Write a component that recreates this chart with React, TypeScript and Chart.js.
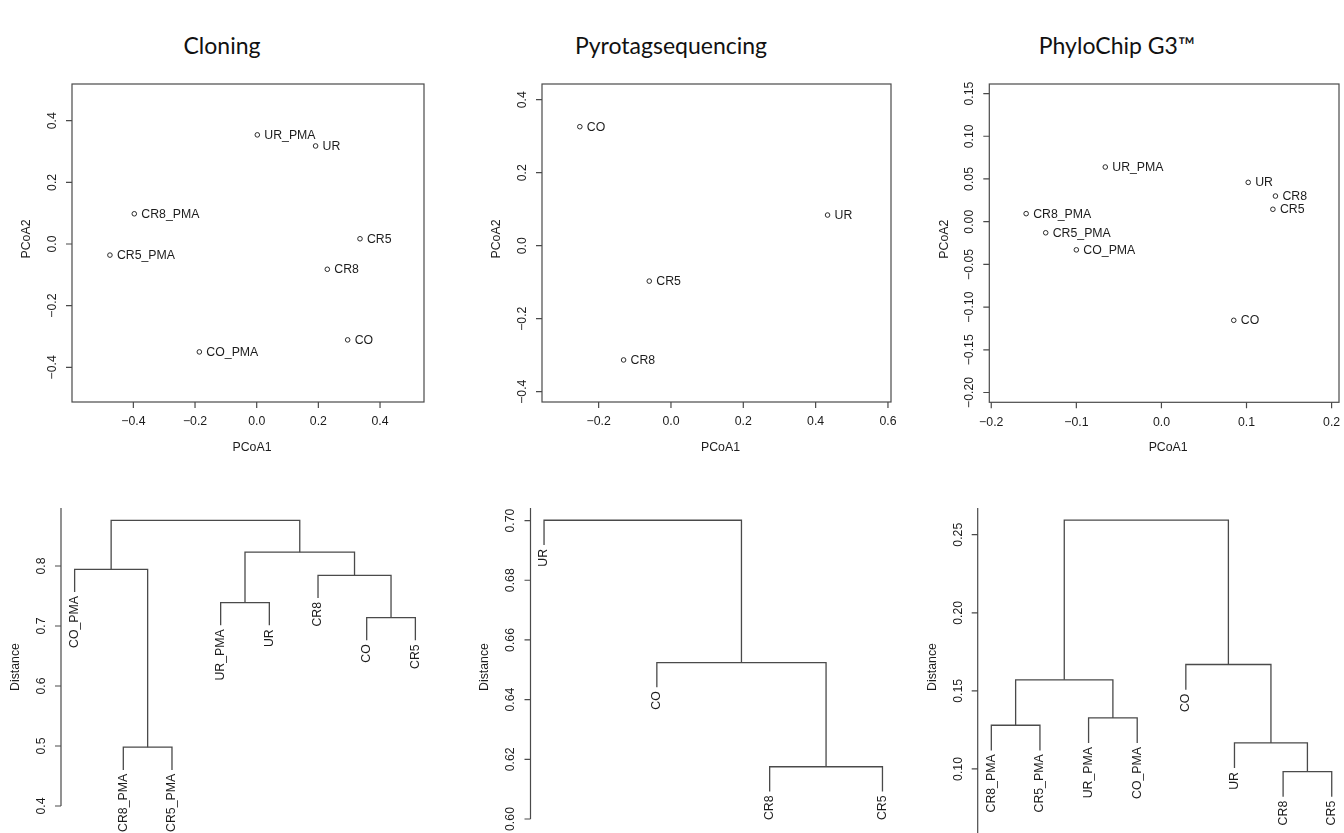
import React, { useEffect, useRef } from "react";
import { Chart, registerables } from "chart.js";
Chart.register(...registerables);

const FONT = '"Liberation Sans", Arial, Helvetica, sans-serif';
const LINE = "#4a4a4a";
const TEXT = "#1c1c1c";
const FS = 12.3;

// ---------- Titles ----------
const TITLES = ["Cloning", "Pyrotagsequencing", "PhyloChip G3™"];
const TITLE_CENTERS = [222, 671, 1117];

// ---------- PCoA: Cloning ----------
const CLONING_LABELS = ["UR_PMA", "UR", "CR8_PMA", "CR5_PMA", "CR5", "CR8", "CO", "CO_PMA"];
const CLONING_PC1 = [0.002, 0.191, -0.397, -0.476, 0.335, 0.229, 0.295, -0.186];
const CLONING_PC2 = [0.354, 0.318, 0.098, -0.036, 0.017, -0.082, -0.311, -0.35];
const CLONING_XTICKS = [-0.4, -0.2, 0, 0.2, 0.4];
const CLONING_XTICK_LABELS = ["−0.4", "−0.2", "0.0", "0.2", "0.4"];
const CLONING_YTICKS = [-0.4, -0.2, 0, 0.2, 0.4];
const CLONING_YTICK_LABELS = ["−0.4", "−0.2", "0.0", "0.2", "0.4"];

// ---------- PCoA: Pyrotagsequencing ----------
const PYRO_LABELS = ["CO", "UR", "CR5", "CR8"];
const PYRO_PC1 = [-0.252, 0.433, -0.06, -0.131];
const PYRO_PC2 = [0.326, 0.084, -0.097, -0.313];
const PYRO_XTICKS = [-0.2, 0, 0.2, 0.4, 0.6];
const PYRO_XTICK_LABELS = ["−0.2", "0.0", "0.2", "0.4", "0.6"];
const PYRO_YTICKS = [-0.4, -0.2, 0, 0.2, 0.4];
const PYRO_YTICK_LABELS = ["−0.4", "−0.2", "0.0", "0.2", "0.4"];

// ---------- PCoA: PhyloChip ----------
const PHYLO_LABELS = ["UR_PMA", "UR", "CR8", "CR5", "CR8_PMA", "CR5_PMA", "CO_PMA", "CO"];
const PHYLO_PC1 = [-0.066, 0.102, 0.134, 0.131, -0.159, -0.136, -0.1, 0.085];
const PHYLO_PC2 = [0.064, 0.046, 0.03, 0.0145, 0.0094, -0.013, -0.033, -0.1155];
const PHYLO_XTICKS = [-0.2, -0.1, 0, 0.1, 0.2];
const PHYLO_XTICK_LABELS = ["−0.2", "−0.1", "0.0", "0.1", "0.2"];
const PHYLO_YTICKS = [-0.2, -0.15, -0.1, -0.05, 0, 0.05, 0.1, 0.15];
const PHYLO_YTICK_LABELS = ["−0.20", "−0.15", "−0.10", "−0.05", "0.00", "0.05", "0.10", "0.15"];

// ---------- Dendrograms (merge: negative = leaf position, positive = earlier merge) ----------
const HANG_FRACTION = 0.1;

const CLONING_LEAVES = ["CO_PMA", "CR8_PMA", "CR5_PMA", "UR_PMA", "UR", "CR8", "CO", "CR5"];
const CLONING_MERGES: [number, number][] = [[-2, -3], [-7, -8], [-4, -5], [-6, 2], [-1, 1], [3, 4], [5, 6]];
const CLONING_HEIGHTS = [0.498, 0.714, 0.739, 0.7845, 0.7945, 0.823, 0.876];
const CLONING_DTICKS = [0.4, 0.5, 0.6, 0.7, 0.8];
const CLONING_DTICK_LABELS = ["0.4", "0.5", "0.6", "0.7", "0.8"];

const PYRO_LEAVES = ["UR", "CO", "CR8", "CR5"];
const PYRO_MERGES: [number, number][] = [[-3, -4], [-2, 1], [-1, 2]];
const PYRO_HEIGHTS = [0.6175, 0.6524, 0.7001];
const PYRO_DTICKS = [0.6, 0.62, 0.64, 0.66, 0.68, 0.7];
const PYRO_DTICK_LABELS = ["0.60", "0.62", "0.64", "0.66", "0.68", "0.70"];

const PHYLO_LEAVES = ["CR8_PMA", "CR5_PMA", "UR_PMA", "CO_PMA", "CO", "UR", "CR8", "CR5"];
const PHYLO_MERGES: [number, number][] = [[-7, -8], [-6, 1], [-1, -2], [-3, -4], [3, 4], [-5, 2], [5, 6]];
const PHYLO_HEIGHTS = [0.0983, 0.1167, 0.128, 0.1327, 0.1571, 0.1669, 0.2594];
const PHYLO_DTICKS = [0.1, 0.15, 0.2, 0.25];
const PHYLO_DTICK_LABELS = ["0.10", "0.15", "0.20", "0.25"];

type Box = { l: number; t: number; r: number; b: number };

interface ScatterCfg {
  kind: "scatter";
  left: number; top: number; width: number; height: number;
  box: Box;
  xMin: number; xMax: number; yMin: number; yMax: number;
  labels: string[]; xs: number[]; ys: number[];
  xTicks: number[]; xTickLabels: string[];
  yTicks: number[]; yTickLabels: string[];
}

interface DendroCfg {
  kind: "dendro";
  left: number; top: number; width: number; height: number;
  box: Box;
  xMin: number; xMax: number; yMin: number; yMax: number;
  leaves: string[]; merges: [number, number][]; heights: number[];
  ticks: number[]; tickLabels: string[];
}

function rotText(ctx: CanvasRenderingContext2D, s: string, x: number, y: number, align: CanvasTextAlign) {
  ctx.save();
  ctx.translate(x, y);
  ctx.rotate(-Math.PI / 2);
  ctx.textAlign = align;
  ctx.textBaseline = "middle";
  ctx.fillText(s, 0, 0);
  ctx.restore();
}

function padding(c: { left: number; top: number; width: number; height: number; box: Box }) {
  return {
    left: c.box.l - c.left,
    top: c.box.t - c.top,
    right: c.left + c.width - c.box.r,
    bottom: c.top + c.height - c.box.b,
  };
}

function makeScatter(canvas: HTMLCanvasElement, c: ScatterCfg) {
  const decor = {
    id: "rdecor",
    afterDraw(chart: any) {
      const ctx: CanvasRenderingContext2D = chart.ctx;
      const a = chart.chartArea;
      const sx = chart.scales.x;
      const sy = chart.scales.y;
      ctx.save();
      ctx.strokeStyle = LINE;
      ctx.lineWidth = 1.2;
      ctx.strokeRect(a.left, a.top, a.right - a.left, a.bottom - a.top);
      ctx.beginPath();
      c.xTicks.forEach((v) => {
        const x = sx.getPixelForValue(v);
        ctx.moveTo(x, a.bottom);
        ctx.lineTo(x, a.bottom + 6);
      });
      c.yTicks.forEach((v) => {
        const y = sy.getPixelForValue(v);
        ctx.moveTo(a.left, y);
        ctx.lineTo(a.left - 6, y);
      });
      ctx.stroke();
      ctx.fillStyle = TEXT;
      ctx.font = `${FS}px ${FONT}`;
      ctx.textAlign = "center";
      ctx.textBaseline = "middle";
      c.xTicks.forEach((v, i) => ctx.fillText(c.xTickLabels[i], sx.getPixelForValue(v), a.bottom + 20));
      c.yTicks.forEach((v, i) => rotText(ctx, c.yTickLabels[i], a.left - 19.5, sy.getPixelForValue(v), "center"));
      ctx.fillText("PCoA1", (a.left + a.right) / 2 + 4, a.bottom + 45.5);
      rotText(ctx, "PCoA2", a.left - 45, (a.top + a.bottom) / 2 - 4, "center");
      ctx.textAlign = "left";
      c.labels.forEach((s, i) => {
        ctx.fillText(s, sx.getPixelForValue(c.xs[i]) + 7, sy.getPixelForValue(c.ys[i]) + 0.5);
      });
      ctx.restore();
    },
  };
  return new Chart(canvas, {
    type: "scatter",
    data: {
      datasets: [
        {
          data: c.xs.map((x, i) => ({ x, y: c.ys[i] })),
          pointRadius: 2.3,
          pointBorderWidth: 1,
          pointBorderColor: "#2a2a2a",
          pointBackgroundColor: "#ffffff",
          showLine: false,
        },
      ],
    },
    options: {
      responsive: false,
      animation: false,
      events: [],
      layout: { padding: padding(c) },
      plugins: { legend: { display: false }, tooltip: { enabled: false } },
      scales: {
        x: { type: "linear", display: false, min: c.xMin, max: c.xMax },
        y: { type: "linear", display: false, min: c.yMin, max: c.yMax },
      },
    },
    plugins: [decor],
  } as any);
}

function makeDendro(canvas: HTMLCanvasElement, c: DendroCfg) {
  const hang = HANG_FRACTION * (Math.max(...c.heights) - Math.min(...c.heights));
  const mx: number[] = [];
  const leafEnds: number[] = new Array(c.leaves.length).fill(0);
  const segments: { x: number; y: number }[][] = [];
  c.merges.forEach(([ca, cb], i) => {
    const h = c.heights[i];
    const pos = (ch: number) => {
      if (ch < 0) {
        const x = -ch;
        leafEnds[x - 1] = h - hang;
        return { x, y: h - hang };
      }
      return { x: mx[ch - 1], y: c.heights[ch - 1] };
    };
    const p1 = pos(ca);
    const p2 = pos(cb);
    mx.push((p1.x + p2.x) / 2);
    segments.push([
      { x: p1.x, y: p1.y },
      { x: p1.x, y: h },
      { x: p2.x, y: h },
      { x: p2.x, y: p2.y },
    ]);
  });

  const decor = {
    id: "rdendro",
    afterDraw(chart: any) {
      const ctx: CanvasRenderingContext2D = chart.ctx;
      const a = chart.chartArea;
      const sx = chart.scales.x;
      const sy = chart.scales.y;
      ctx.save();
      ctx.strokeStyle = LINE;
      ctx.lineWidth = 1.2;
      ctx.beginPath();
      ctx.moveTo(a.left, a.top);
      ctx.lineTo(a.left, a.bottom);
      c.ticks.forEach((v) => {
        const y = sy.getPixelForValue(v);
        ctx.moveTo(a.left, y);
        ctx.lineTo(a.left - 6, y);
      });
      ctx.stroke();
      ctx.fillStyle = TEXT;
      ctx.font = `${FS}px ${FONT}`;
      c.ticks.forEach((v, i) => rotText(ctx, c.tickLabels[i], a.left - 19.5, sy.getPixelForValue(v), "center"));
      rotText(ctx, "Distance", a.left - 45.5, 667 - c.top, "center");
      c.leaves.forEach((s, i) => {
        rotText(ctx, s, sx.getPixelForValue(i + 1), sy.getPixelForValue(leafEnds[i]) + 4, "right");
      });
      ctx.restore();
    },
  };

  return new Chart(canvas, {
    type: "scatter",
    data: {
      datasets: segments.map((seg) => ({
        data: seg,
        showLine: true,
        pointRadius: 0,
        borderColor: LINE,
        borderWidth: 1.3,
        tension: 0,
        clip: false,
      })),
    },
    options: {
      responsive: false,
      animation: false,
      events: [],
      layout: { padding: padding(c) },
      plugins: { legend: { display: false }, tooltip: { enabled: false } },
      scales: {
        x: { type: "linear", display: false, min: c.xMin, max: c.xMax },
        y: { type: "linear", display: false, min: c.yMin, max: c.yMax },
      },
    },
    plugins: [decor],
  } as any);
}

const PANELS: (ScatterCfg | DendroCfg)[] = [
  {
    kind: "scatter", left: 0, top: 60, width: 448, height: 400,
    box: { l: 72, t: 84, r: 424, b: 402 },
    xMin: -0.599, xMax: 0.5426, yMin: -0.5125, yMax: 0.519,
    labels: CLONING_LABELS, xs: CLONING_PC1, ys: CLONING_PC2,
    xTicks: CLONING_XTICKS, xTickLabels: CLONING_XTICK_LABELS,
    yTicks: CLONING_YTICKS, yTickLabels: CLONING_YTICK_LABELS,
  },
  {
    kind: "scatter", left: 448, top: 60, width: 448, height: 400,
    box: { l: 542, t: 84, r: 893, b: 402 },
    xMin: -0.3566, xMax: 0.6084, yMin: -0.4282, yMax: 0.443,
    labels: PYRO_LABELS, xs: PYRO_PC1, ys: PYRO_PC2,
    xTicks: PYRO_XTICKS, xTickLabels: PYRO_XTICK_LABELS,
    yTicks: PYRO_YTICKS, yTickLabels: PYRO_YTICK_LABELS,
  },
  {
    kind: "scatter", left: 896, top: 60, width: 448, height: 400,
    box: { l: 989.3, t: 84, r: 1340.7, b: 402.3 },
    xMin: -0.2023, xMax: 0.2087, yMin: -0.2115, yMax: 0.1612,
    labels: PHYLO_LABELS, xs: PHYLO_PC1, ys: PHYLO_PC2,
    xTicks: PHYLO_XTICKS, xTickLabels: PHYLO_XTICK_LABELS,
    yTicks: PHYLO_YTICKS, yTickLabels: PHYLO_YTICK_LABELS,
  },
  {
    kind: "dendro", left: 0, top: 460, width: 448, height: 373,
    box: { l: 61, t: 508, r: 429, b: 806 },
    xMin: 0.72, xMax: 8.28, yMin: 0.4, yMax: 0.8967,
    leaves: CLONING_LEAVES, merges: CLONING_MERGES, heights: CLONING_HEIGHTS,
    ticks: CLONING_DTICKS, tickLabels: CLONING_DTICK_LABELS,
  },
  {
    kind: "dendro", left: 448, top: 460, width: 448, height: 373,
    box: { l: 530.5, t: 508, r: 898, b: 819 },
    xMin: 0.88, xMax: 4.12, yMin: 0.6, yMax: 0.7042,
    leaves: PYRO_LEAVES, merges: PYRO_MERGES, heights: PYRO_HEIGHTS,
    ticks: PYRO_DTICKS, tickLabels: PYRO_DTICK_LABELS,
  },
  {
    kind: "dendro", left: 896, top: 460, width: 448, height: 373,
    box: { l: 977.7, t: 508, r: 1340, b: 833 },
    xMin: 0.72, xMax: 8.17, yMin: 0.059, yMax: 0.2671,
    leaves: PHYLO_LEAVES, merges: PHYLO_MERGES, heights: PHYLO_HEIGHTS,
    ticks: PHYLO_DTICKS, tickLabels: PHYLO_DTICK_LABELS,
  },
];

function Panel({ cfg }: { cfg: ScatterCfg | DendroCfg }) {
  const ref = useRef<HTMLCanvasElement>(null);
  useEffect(() => {
    const canvas = ref.current!;
    const chart = cfg.kind === "scatter" ? makeScatter(canvas, cfg) : makeDendro(canvas, cfg);
    return () => chart.destroy();
  }, [cfg]);
  return (
    <canvas
      ref={ref}
      width={cfg.width}
      height={cfg.height}
      style={{ position: "absolute", left: cfg.left, top: cfg.top, width: cfg.width, height: cfg.height }}
    />
  );
}

export default function App() {
  return (
    <div
      style={{
        position: "absolute",
        left: 0,
        top: 0,
        width: 1344,
        height: 833,
        background: "#ffffff",
        overflow: "hidden",
      }}
    >
      {TITLES.map((t, i) => (
        <div
          key={t}
          style={{
            position: "absolute",
            left: TITLE_CENTERS[i] - 200,
            width: 400,
            top: 31,
            textAlign: "center",
            fontFamily: "Lato, 'Open Sans', sans-serif",
            fontSize: 23,
            lineHeight: "28px",
            color: "#111",
          }}
        >
          {t}
        </div>
      ))}
      {PANELS.map((p, i) => (
        <Panel key={i} cfg={p} />
      ))}
    </div>
  );
}
